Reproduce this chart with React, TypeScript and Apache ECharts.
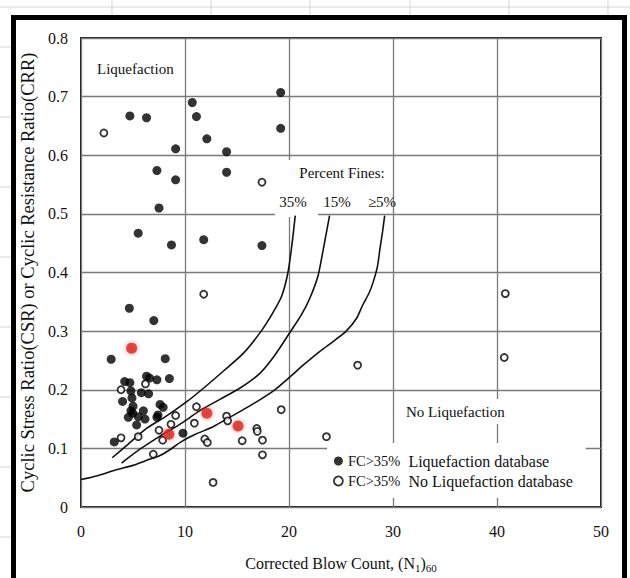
import React, { useEffect, useRef } from "react";
import * as echarts from "echarts";

// Axis ticks
const xMin = 0, xMax = 50, xStep = 10;
const yMin = 0, yMax = 0.8, yStep = 0.1;

// FC>35% liquefaction database (filled black)
const liqN = [19.2, 4.7, 6.3, 10.7, 11.1, 19.2, 12.1, 9.1, 14.0, 7.3, 14.0, 9.1, 7.5, 5.5, 8.7, 11.8, 17.4,
  4.65, 7.0, 2.9, 8.1, 9.8, 3.2,
  4.2, 4.7, 6.3, 6.6, 7.3, 8.5, 5.8, 6.5, 4.0, 4.9, 5.0, 4.8, 7.6, 7.9, 6.0, 4.55, 5.5, 6.15, 5.35, 7.3, 7.4, 4.8, 4.97];
const liqCSR = [0.707, 0.667, 0.664, 0.690, 0.666, 0.646, 0.628, 0.611, 0.606, 0.574, 0.571, 0.558, 0.510, 0.467, 0.447, 0.456, 0.446,
  0.339, 0.318, 0.252, 0.253, 0.126, 0.111,
  0.214, 0.212, 0.223, 0.220, 0.217, 0.219, 0.195, 0.193, 0.180, 0.186, 0.172, 0.164, 0.175, 0.170, 0.164, 0.153, 0.154, 0.150, 0.140, 0.153, 0.157, 0.198, 0.160];

// FC>35% no liquefaction database (open circles)
const noLiqN = [2.2, 17.4, 11.8, 3.85, 6.2, 3.85, 5.5, 6.95, 7.5, 7.85, 8.65, 9.1, 10.9, 11.1, 11.9, 12.15, 12.7, 14.0, 14.1, 15.5,
  16.9, 16.95, 17.45, 17.45, 19.25, 23.6, 26.6, 40.8, 40.7];
const noLiqCSR = [0.638, 0.554, 0.363, 0.200, 0.210, 0.118, 0.120, 0.090, 0.131, 0.114, 0.141, 0.156, 0.143, 0.171, 0.116, 0.110, 0.042, 0.155, 0.147, 0.113,
  0.134, 0.129, 0.114, 0.089, 0.166, 0.120, 0.242, 0.364, 0.255];

// highlighted (red) cases
const redN = [4.87, 8.45, 12.1, 15.1];
const redCSR = [0.271, 0.124, 0.160, 0.138];

// CRR boundary curves (percent fines)
const c35N = [3.0, 4.4, 6.3, 8.2, 10.2, 11.8, 13.7, 15.6, 17.2, 18.4, 19.3, 19.9, 20.3, 20.6];
const c35CRR = [0.084, 0.105, 0.134, 0.155, 0.180, 0.203, 0.232, 0.262, 0.297, 0.330, 0.360, 0.400, 0.450, 0.497];
const c15N = [3.9, 5.7, 7.6, 9.5, 11.4, 13.4, 15.3, 17.2, 18.6, 20.1, 21.2, 22.0, 22.8, 23.3, 23.9];
const c15CRR = [0.075, 0.099, 0.121, 0.141, 0.164, 0.184, 0.203, 0.228, 0.258, 0.298, 0.328, 0.356, 0.395, 0.440, 0.497];
const c5N = [0, 1.5, 3.3, 5.0, 6.2, 7.5, 8.4, 9.7, 11.0, 12.7, 14.2, 15.9, 17.3, 18.5, 20.1, 21.5, 23.0, 24.3, 25.5, 26.5, 27.1, 27.7, 28.1, 28.5, 28.75, 29.0, 29.2];
const c5CRR = [0.047, 0.053, 0.063, 0.071, 0.079, 0.087, 0.096, 0.112, 0.124, 0.137, 0.152, 0.169, 0.184, 0.198, 0.222, 0.244, 0.266, 0.283, 0.300, 0.322, 0.345, 0.365, 0.384, 0.410, 0.441, 0.470, 0.497];

const liqName = "FC>35% Liquefaction database";
const noLiqName = "FC>35% No Liquefaction database";

const zip = (a: number[], b: number[]) => a.map((v, i) => [v, b[i]]);

export default function App() {
  const ref = useRef<HTMLDivElement>(null);
  useEffect(() => {
    const chart = echarts.init(ref.current!, null, { renderer: "svg" });
    const serif = "'Liberation Serif', 'Times New Roman', serif";
    const ink = "#111";
    const txt = (text: string, x: number, y: number, align = "left", size = 15) => ({
      type: "text", x, y, z: 3, silent: true,
      style: { text, font: `${size}px ${serif}`, fill: ink, align, verticalAlign: "middle" },
    });
    const whiteBox = (x: number, y: number, w: number, h: number) => ({
      type: "rect", z: 1, silent: true, shape: { x, y, width: w, height: h }, style: { fill: "#fff" },
    });
    const excel = (x1: number, y1: number, x2: number, y2: number) => ({
      type: "line", z: 0, silent: true, shape: { x1, y1, x2, y2 }, style: { stroke: "#d6d6d6", lineWidth: 1 },
    });
    const curveSeries = (nx: number[], ny: number[]) => ({
      type: "line", data: zip(nx, ny), showSymbol: false, symbol: "none", smooth: 0.25, silent: true,
      lineStyle: { color: ink, width: 1.6 }, z: 3,
    });
    chart.setOption({
      animation: false,
      backgroundColor: "#fff",
      grid: { left: 81, top: 38, width: 520, height: 472, show: true, borderColor: "#1a1a1a", borderWidth: 2 },
      xAxis: {
        type: "value", min: xMin, max: xMax, interval: xStep,
        axisLine: { show: false }, axisTick: { show: false },
        splitLine: { show: true, lineStyle: { color: "#7a7a7a", width: 1.3 } },
        axisLabel: { margin: 16, fontFamily: serif, fontSize: 16, color: ink },
        name: "Corrected Blow Count, (N{s|1}){s|60}",
        nameLocation: "middle", nameGap: 47,
        nameTextStyle: {
          fontFamily: serif, fontSize: 16, color: ink,
          rich: { s: { fontFamily: serif, fontSize: 11, color: ink, padding: [8, 0, 0, 0] } },
        },
      },
      yAxis: {
        type: "value", min: yMin, max: yMax, interval: yStep,
        axisLine: { show: false }, axisTick: { show: false },
        splitLine: { show: true, lineStyle: { color: "#7a7a7a", width: 1.3 } },
        axisLabel: { margin: 13, fontFamily: serif, fontSize: 16, color: ink },
        name: "Cyclic Stress Ratio(CSR) or Cyclic Resistance Ratio(CRR)",
        nameLocation: "middle", nameGap: 41,
        nameTextStyle: { fontFamily: serif, fontSize: 18.5, color: ink },
      },
      legend: {
        orient: "vertical", left: 327, top: 443, padding: [10, 13, 9, 6], itemGap: 4,
        itemWidth: 9, itemHeight: 9, backgroundColor: "#fff", selectedMode: false, z: 5,
        data: [
          { name: liqName, icon: "circle", itemStyle: { color: "#000", borderWidth: 0 } },
          { name: noLiqName, icon: "circle", itemStyle: { color: "#fff", borderColor: "#000", borderWidth: 1.8 } },
        ],
        formatter: (n: string) => `{a|FC>35%}  {b|${n.slice(7)}}`,
        textStyle: {
          fontFamily: serif, fontSize: 16, color: ink,
          rich: {
            a: { fontFamily: serif, fontSize: 14.5, color: ink },
            b: { fontFamily: serif, fontSize: 16, color: ink },
          },
        },
      },
      graphic: [
        excel(0, 7, 630, 7),
        excel(112, 0, 112, 16), excel(211, 0, 211, 16), excel(310, 0, 310, 16),
        excel(410, 0, 410, 16), excel(509, 0, 509, 16), excel(608, 0, 608, 16),
        excel(0, 47, 11, 47), excel(0, 117, 11, 117), excel(0, 187, 11, 187), excel(0, 257, 11, 257),
        excel(0, 327, 11, 327), excel(0, 397, 11, 397), excel(0, 467, 11, 467), excel(0, 537, 11, 537),
        whiteBox(275, 160, 43, 57),
        whiteBox(401, 399, 114, 25),
        txt("Liquefaction", 97, 69),
        txt("Percent Fines:", 342, 173, "center"),
        txt("35%", 293, 202, "center"),
        txt("15%", 337, 202, "center"),
        txt("\u22655%", 382, 202, "center"),
        txt("No Liquefaction", 406, 412),
        {
          type: "rect", z: 10, silent: true,
          shape: { x: 13.5, y: 17.5, width: 611, height: 620 },
          style: { fill: "none", stroke: "#000", lineWidth: 5 },
        },
      ],
      series: [
        curveSeries(c35N, c35CRR),
        curveSeries(c15N, c15CRR),
        curveSeries(c5N, c5CRR),
        {
          name: liqName, type: "scatter", data: zip(liqN, liqCSR), symbolSize: 9, z: 4,
          itemStyle: { color: "#000" },
        },
        {
          name: noLiqName, type: "scatter", data: zip(noLiqN, noLiqCSR), symbolSize: 7, z: 4,
          itemStyle: { color: "#fff", borderColor: "#000", borderWidth: 1.8 },
        },
        {
          name: "highlight", type: "scatter", data: zip(redN, redCSR), symbolSize: 11, z: 5,
          itemStyle: { color: "#d42a25", shadowBlur: 5, shadowColor: "rgba(220,40,40,0.6)" },
        },
      ],
    });
    return () => chart.dispose();
  }, []);
  return <div ref={ref} style={{ position: "fixed", left: 0, top: 0, width: 630, height: 578 }} />;
}
